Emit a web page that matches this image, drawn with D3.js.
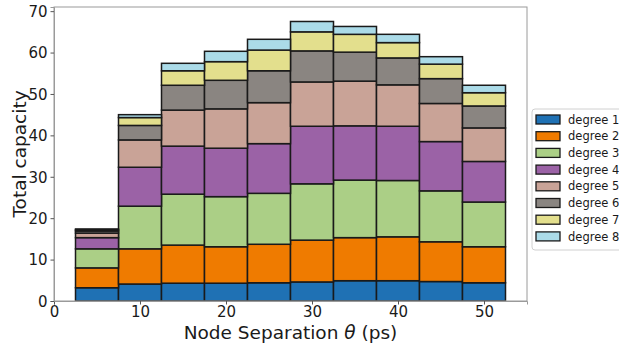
<!DOCTYPE html>
<html lang="en">
<head>
<meta charset="UTF-8">
<title>Total capacity by node separation</title>
<script src="https://d3js.org/d3.v7.min.js"></script>
<style>
    body { margin: 0; background: white; }
    svg text { font-family: "DejaVu Sans", sans-serif; fill: #1a1a1a; }
    .tick text { font-size: 15px; }
    .axis-title { font-size: 18.5px; }
    .legend text { font-size: 11.5px; }
</style>
</head>
<body>
<div id="chart"></div>
<script>
    // node separation bins (centres, ps)
    const separations = [5, 10, 15, 20, 25, 30, 35, 40, 45, 50];
    const degrees = ["degree 1", "degree 2", "degree 3", "degree 4",
                     "degree 5", "degree 6", "degree 7", "degree 8"];

    // capacity contributed by each degree, one value per bin
    const degree1 = [3.2, 4.1, 4.3, 4.3, 4.4, 4.6, 4.9, 4.9, 4.7, 4.4];
    const degree2 = [4.8, 8.5, 9.2, 8.8, 9.3, 10.1, 10.4, 10.6, 9.6, 8.7];
    const degree3 = [4.6, 10.3, 12.3, 12.1, 12.3, 13.6, 13.9, 13.6, 12.3, 10.8];
    const degree4 = [2.7, 9.4, 11.6, 11.7, 12.0, 13.9, 13.1, 13.1, 11.9, 9.8];
    const degree5 = [1.1, 6.6, 8.7, 9.5, 9.9, 10.7, 10.8, 10.0, 9.2, 8.1];
    const degree6 = [0.5, 3.5, 6.0, 6.9, 7.7, 7.5, 7.0, 6.5, 6.0, 5.3];
    const degree7 = [0.3, 1.9, 3.5, 4.5, 5.0, 4.6, 4.3, 3.7, 3.5, 3.2];
    const degree8 = [0.2, 0.7, 1.8, 2.5, 2.6, 2.5, 1.9, 2.0, 1.8, 1.8];

    const xTicks = [0, 10, 20, 30, 40, 50];
    const yTicks = [0, 10, 20, 30, 40, 50, 60, 70];
    const binWidth = 5;

    const colors = ["#1f71b4", "#ef7b00", "#abcf86", "#9b62a6",
                    "#c9a397", "#8a8581", "#e3df8d", "#abdbe8"];

    const series = [degree1, degree2, degree3, degree4, degree5, degree6, degree7, degree8];
    const table = separations.map((s, i) => {
        const row = { sep: s };
        degrees.forEach((d, j) => row[d] = series[j][i]);
        return row;
    });

    const width = 619, height = 346;
    const margin = { top: 7, right: 92, bottom: 45, left: 54 };

    const svg = d3.select("#chart")
        .append("svg")
        .attr("width", width)
        .attr("height", height);

    const x = d3.scaleLinear()
        .domain([0, 55])
        .range([margin.left, width - margin.right]);

    const y = d3.scaleLinear()
        .domain([0, 71])
        .range([height - margin.bottom, margin.top]);

    const stacked = d3.stack().keys(degrees)(table);

    // bars
    svg.append("g")
        .selectAll("g")
        .data(stacked)
        .join("g")
        .attr("fill", (d, i) => colors[i])
        .selectAll("rect")
        .data(d => d)
        .join("rect")
        .attr("x", d => x(d.data.sep - binWidth / 2))
        .attr("width", d => x(d.data.sep + binWidth / 2) - x(d.data.sep - binWidth / 2))
        .attr("y", d => y(d[1]))
        .attr("height", d => y(d[0]) - y(d[1]))
        .attr("stroke", "#1a1a1a")
        .attr("stroke-width", 1.5);

    // frame
    svg.append("rect")
        .attr("x", x(0))
        .attr("y", y(71))
        .attr("width", x(55) - x(0))
        .attr("height", y(0) - y(71))
        .attr("fill", "none")
        .attr("stroke", "#9a9a9a")
        .attr("stroke-width", 1);

    const xAxis = svg.append("g")
        .attr("transform", `translate(0,${y(0)})`)
        .call(d3.axisBottom(x).tickValues(xTicks).tickSize(3.5).tickPadding(2));

    const yAxis = svg.append("g")
        .attr("transform", `translate(${x(0)},0)`)
        .call(d3.axisLeft(y).tickValues(yTicks).tickSize(3.5).tickPadding(3));

    [xAxis, yAxis].forEach(a => {
        a.select(".domain").attr("stroke", "#9a9a9a");
        a.selectAll(".tick line").attr("stroke", "#555");
        a.selectAll(".tick text").attr("font-family", null).attr("font-size", null);
    });
    xAxis.selectAll(".tick text").attr("dy", "0.72em");
    yAxis.selectAll(".tick text").attr("dy", "0.36em");

    // axis titles
    svg.append("text")
        .attr("class", "axis-title")
        .attr("x", (x(0) + x(55)) / 2)
        .attr("y", 339)
        .attr("text-anchor", "middle")
        .html('Node Separation <tspan font-style="italic">θ</tspan> (ps)');

    svg.append("text")
        .attr("class", "axis-title")
        .attr("transform", `translate(26,${(y(0) + y(71)) / 2}) rotate(-90)`)
        .attr("text-anchor", "middle")
        .text("Total capacity");

    // legend
    const legend = svg.append("g")
        .attr("class", "legend")
        .attr("transform", "translate(532,109)");

    legend.append("rect")
        .attr("width", 100)
        .attr("height", 141)
        .attr("rx", 3)
        .attr("fill", "white")
        .attr("stroke", "#d0d0d0");

    const items = legend.selectAll(".item")
        .data(degrees)
        .join("g")
        .attr("class", "item")
        .attr("transform", (d, i) => `translate(4,${10.5 + i * 16.7})`);

    items.append("rect")
        .attr("x", 0)
        .attr("y", -4.5)
        .attr("width", 24)
        .attr("height", 9)
        .attr("fill", (d, i) => colors[i])
        .attr("stroke", "#1a1a1a")
        .attr("stroke-width", 1.3);

    items.append("text")
        .attr("x", 32)
        .attr("dy", "0.36em")
        .text(d => d);
</script>
</body>
</html>
